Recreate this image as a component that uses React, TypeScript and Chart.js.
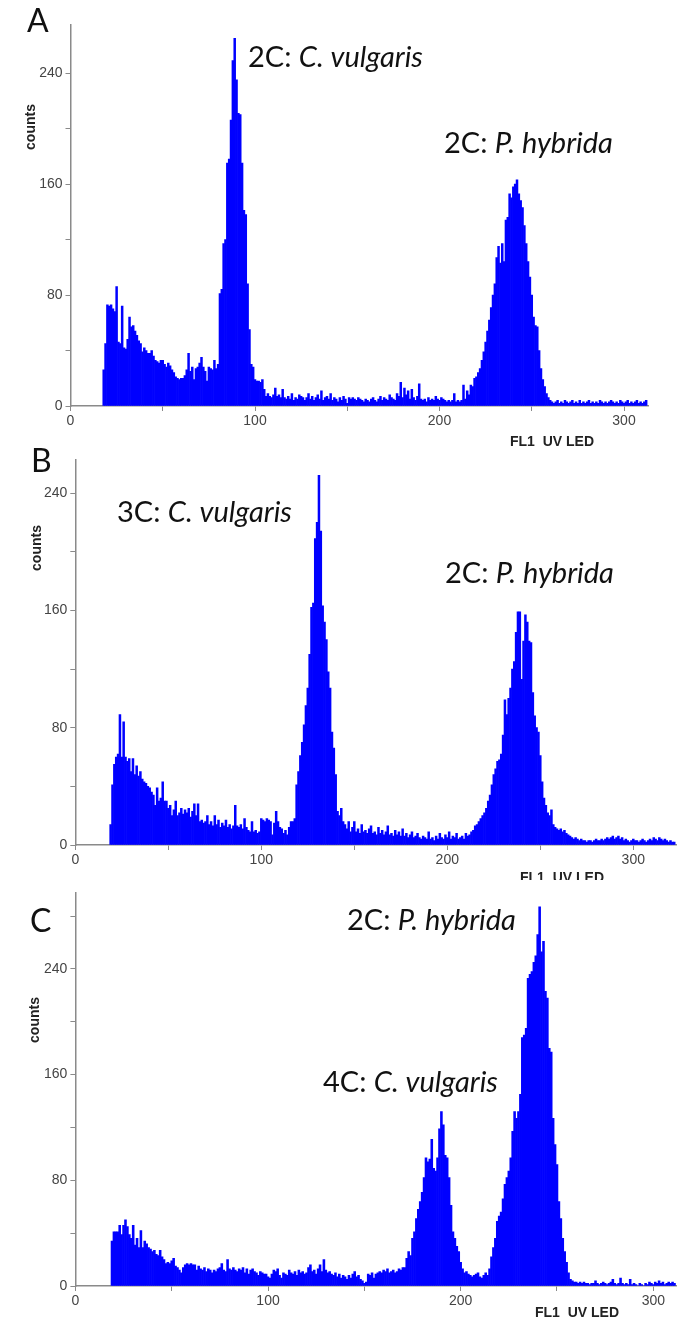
import React, { useEffect, useRef } from 'react';
import { Chart, registerables } from 'chart.js';

Chart.register(...registerables);

// ---------------- data ----------------
const xTickLabels = ['0', '100', '200', '300'];
const yTickLabels = ['0', '80', '160', '240'];
const xAxisTitle = 'FL1  UV LED';
const yAxisTitle = 'counts';
const panelLetters = ['A', 'B', 'C'];

// Panel A: histogram counts, one value per channel starting at firstChannelA
const firstChannelA = 18;
const countsA = [
  26, 45, 73, 72, 73, 70, 68, 86, 46, 45,
  72, 42, 41, 48, 64, 57, 58, 54, 51, 47,
  45, 39, 42, 40, 38, 38, 40, 36, 33, 32,
  31, 33, 33, 30, 28, 31, 29, 26, 24, 21,
  20, 19, 20, 20, 22, 26, 38, 25, 28, 19,
  27, 28, 31, 35, 28, 25, 18, 28, 27, 26,
  33, 27, 30, 81, 84, 117, 120, 175, 178, 206,
  249, 265, 235, 211, 210, 175, 141, 138, 88, 55,
  30, 28, 19, 18, 18, 17, 19, 12, 7, 9,
  7, 6, 8, 13, 7, 8, 6, 12, 6, 5,
  7, 5, 9, 4, 6, 5, 8, 7, 6, 4,
  6, 9, 5, 7, 4, 6, 8, 5, 11, 4,
  6, 7, 5, 9, 4, 6, 5, 3, 6, 4,
  7, 5, 2, 6, 5, 6, 5, 4, 6, 5,
  4, 3, 5, 4, 3, 5, 6, 4, 3, 5,
  7, 4, 6, 5, 4, 8, 6, 5, 4, 9,
  7, 17, 6, 13, 8, 11, 5, 12, 6, 4,
  7, 16, 5, 4, 5, 3, 6, 4, 5, 4,
  7, 5, 4, 6, 5, 4, 3, 4, 3, 4,
  9, 3, 4, 3, 4, 15, 5, 11, 8, 15,
  14, 20, 21, 24, 27, 33, 39, 46, 54, 62,
  71, 80, 88, 107, 115, 103, 117, 104, 134, 136,
  153, 150, 158, 160, 163, 153, 148, 143, 130, 117,
  104, 93, 80, 64, 58, 57, 40, 27, 19, 14,
  9, 6, 4, 3, 2, 3, 4, 2, 3, 2,
  4, 3, 2, 3, 4, 2, 3, 2, 4, 2,
  3, 2, 3, 4, 2, 3, 2, 3, 2, 4,
  3, 2, 3, 2, 3, 4, 3, 2, 3, 2,
  4, 3, 2, 3, 4, 2, 3, 2, 3, 4,
  2, 3, 2, 3, 4,
];
const peakDosesA = ['2C: ', '2C: '];
const peakSpeciesA = ['C. vulgaris', 'P. hybrida'];

// Panel B
const firstChannelB = 19;
const countsB = [
  14, 41, 55, 60, 62, 89, 60, 84, 60, 57,
  59, 50, 59, 48, 54, 47, 50, 45, 43, 42,
  40, 39, 36, 34, 27, 39, 30, 32, 43, 30,
  30, 25, 27, 20, 24, 30, 20, 22, 25, 21,
  24, 22, 25, 19, 23, 28, 20, 28, 16, 17,
  15, 16, 20, 14, 16, 13, 20, 14, 17, 12,
  15, 13, 17, 12, 14, 11, 13, 27, 13, 12,
  14, 11, 18, 12, 10, 9, 16, 9, 10, 8,
  9, 18, 17, 16, 18, 17, 16, 7, 15, 23,
  16, 12, 11, 8, 10, 7, 12, 16, 16, 18,
  41, 50, 61, 70, 82, 95, 107, 130, 162, 165,
  209, 220, 252, 214, 163, 152, 140, 118, 107, 77,
  66, 48, 23, 20, 25, 16, 14, 11, 16, 9,
  12, 16, 9, 11, 8, 14, 9, 10, 8, 11,
  13, 8, 9, 7, 12, 8, 10, 7, 9, 13,
  7, 8, 6, 10, 7, 9, 6, 11, 6, 8,
  5, 7, 9, 5, 6, 8, 5, 4, 6, 5,
  4, 9, 4, 5, 3, 6, 4, 8, 5, 4,
  7, 5, 9, 4, 6, 5, 8, 4, 5, 6,
  4, 8, 6, 7, 9, 10, 13, 14, 16, 18,
  20, 22, 25, 30, 34, 41, 48, 52, 57, 58,
  62, 75, 99, 89, 100, 107, 120, 125, 145, 159,
  159, 113, 139, 157, 152, 139, 138, 104, 88, 80,
  77, 61, 43, 32, 27, 22, 20, 24, 14, 12,
  11, 10, 11, 9, 10, 8, 7, 6, 5, 4,
  5, 4, 3, 4, 3, 3, 2, 3, 3, 2,
  3, 4, 3, 3, 4, 3, 4, 5, 4, 5,
  6, 4, 5, 6, 4, 5, 3, 4, 3, 2,
  3, 4, 3, 3, 2, 3, 4, 3, 2, 3,
  4, 3, 5, 4, 3, 5, 4, 3, 4, 3,
  2, 3, 2, 2,
];
const peakDosesB = ['3C: ', '2C: '];
const peakSpeciesB = ['C. vulgaris', 'P. hybrida'];

// Panel C
const firstChannelC = 19;
const countsC = [
  34, 41, 41, 41, 46, 39, 46, 50, 45, 39,
  36, 46, 31, 36, 29, 42, 29, 34, 32, 29,
  28, 26, 27, 24, 23, 27, 22, 20, 17, 18,
  17, 19, 21, 15, 14, 12, 10, 14, 16, 17,
  16, 17, 16, 16, 12, 15, 13, 12, 14, 11,
  13, 12, 10, 12, 11, 13, 14, 17, 12, 11,
  20, 13, 12, 14, 12, 11, 13, 12, 14, 10,
  13, 9, 12, 13, 11, 10, 8, 11, 10, 9,
  9, 7, 6, 9, 12, 11, 13, 8, 6, 10,
  9, 8, 12, 10, 9, 11, 8, 12, 10, 11,
  9, 10, 14, 16, 11, 12, 9, 13, 16, 11,
  20, 12, 10, 11, 9, 8, 10, 7, 9, 6,
  8, 7, 5, 8, 6, 9, 11, 7, 8, 5,
  4, 2, 3, 9, 8, 10, 6, 9, 10, 11,
  10, 12, 11, 13, 10, 11, 12, 10, 11, 13,
  12, 14, 14, 21, 26, 23, 36, 41, 51, 58,
  64, 71, 82, 97, 94, 96, 111, 89, 87, 97,
  119, 132, 122, 99, 97, 82, 61, 41, 36, 30,
  26, 18, 13, 10, 11, 9, 8, 7, 8, 9,
  10, 7, 6, 8, 10, 8, 13, 22, 29, 36,
  49, 53, 56, 66, 77, 82, 87, 97, 117, 132,
  127, 132, 145, 188, 190, 195, 233, 236, 238, 245,
  250, 266, 287, 253, 261, 223, 218, 180, 177, 127,
  107, 92, 64, 51, 36, 26, 18, 10, 5, 4,
  3, 3, 2, 3, 2, 3, 2, 2, 1, 2,
  2, 4, 2, 1, 2, 3, 2, 1, 2, 3,
  5, 2, 1, 2, 6, 2, 1, 2, 1, 5,
  1, 2, 1, 0, 2, 1, 0, 2, 1, 3,
  2, 1, 3, 2, 4, 2, 3, 1, 2, 3,
  2, 3, 2,
];
const peakDosesC = ['2C: ', '4C: '];
const peakSpeciesC = ['P. hybrida', 'C. vulgaris'];

// ---------------- layout / style ----------------
const W = 677;
const BAR_COLOR = '#0000ff';
const AXIS_COLOR = '#8a8a8a';
const TICK_COLOR = '#444444';
const TICK_FONT = { family: '"Liberation Sans", Arial, sans-serif', size: 14 };
const LABEL_FONT = 'Lato, "Open Sans", sans-serif';
const PEAK_FONT_SIZE = 29;

type PanelCfg = {
  letter: string;
  first: number;
  counts: number[];
  doses: string[];
  species: string[];
  top: number;
  h: number;
  left: number;
  right: number;
  plotTop: number;
  plotBottom: number;
  xMax: number;
  yMax: number;
  letterPos: [number, number];
  peakPos: [number, number][];
  countsPos: [number, number];
  titlePos: [number, number];
};

const PANELS: PanelCfg[] = [
  {
    letter: panelLetters[0], first: firstChannelA, counts: countsA, doses: peakDosesA, species: peakSpeciesA,
    top: 0, h: 452, left: 70.5, right: 648, plotTop: 25, plotBottom: 406, xMax: 313, yMax: 274.6,
    letterPos: [27, 32], peakPos: [[248, 67], [444, 153]], countsPos: [31, 127], titlePos: [510, 446],
  },
  {
    letter: panelLetters[1], first: firstChannelB, counts: countsB, doses: peakDosesB, species: peakSpeciesB,
    top: 440, h: 440, left: 75.3, right: 677, plotTop: 20, plotBottom: 405, xMax: 323.5, yMax: 262.5,
    letterPos: [31, 32], peakPos: [[117, 82], [445, 143]], countsPos: [37, 108], titlePos: [520, 442],
  },
  {
    letter: panelLetters[2], first: firstChannelC, counts: countsC, doses: peakDosesC, species: peakSpeciesC,
    top: 880, h: 439, left: 75.4, right: 677, plotTop: 13, plotBottom: 406, xMax: 312.3, yMax: 297.5,
    letterPos: [30, 52], peakPos: [[347, 50], [323, 212]], countsPos: [35, 140], titlePos: [535, 437],
  },
];

function makeTextPlugin(cfg: PanelCfg) {
  return {
    id: 'panelText' + cfg.letter,
    afterDraw(chart: any) {
      const ctx: CanvasRenderingContext2D = chart.ctx;
      ctx.save();
      ctx.fillStyle = '#111111';
      ctx.textAlign = 'left';
      ctx.textBaseline = 'alphabetic';
      ctx.font = `400 32px ${LABEL_FONT}`;
      ctx.fillText(cfg.letter, cfg.letterPos[0], cfg.letterPos[1]);
      cfg.doses.forEach((dose, i) => {
        const [x, y] = cfg.peakPos[i];
        ctx.font = `400 ${PEAK_FONT_SIZE}px ${LABEL_FONT}`;
        ctx.fillText(dose, x, y);
        const w = ctx.measureText(dose).width;
        ctx.font = `italic 400 ${PEAK_FONT_SIZE}px ${LABEL_FONT}`;
        ctx.fillText(cfg.species[i], x + w, y);
      });
      ctx.font = 'bold 14px "Liberation Sans", Arial, sans-serif';
      ctx.fillStyle = '#222222';
      ctx.fillText(xAxisTitle, cfg.titlePos[0], cfg.titlePos[1]);
      ctx.translate(cfg.countsPos[0], cfg.countsPos[1]);
      ctx.rotate(-Math.PI / 2);
      ctx.textAlign = 'center';
      ctx.textBaseline = 'middle';
      ctx.fillText(yAxisTitle, 0, 0);
      ctx.restore();
    },
  };
}

function Panel({ cfg }: { cfg: PanelCfg }) {
  const ref = useRef<HTMLCanvasElement | null>(null);
  useEffect(() => {
    const canvas = ref.current;
    if (!canvas) return;
    const points = cfg.counts.map((c, i) => ({ x: cfg.first + i, y: c }));
    const chart = new Chart(canvas, {
      type: 'bar',
      data: {
        datasets: [
          {
            data: points as any,
            backgroundColor: BAR_COLOR,
            borderWidth: 0,
            barPercentage: 1,
            categoryPercentage: 1,
          },
        ],
      },
      options: {
        responsive: false,
        animation: false,
        events: [],
        layout: { padding: { top: cfg.plotTop, right: W - cfg.right, left: 0, bottom: 0 } },
        plugins: { legend: { display: false }, tooltip: { enabled: false } },
        scales: {
          x: {
            type: 'linear',
            min: 0,
            max: cfg.xMax,
            offset: false,
            ticks: {
              stepSize: 50,
              includeBounds: false,
              autoSkip: false,
              maxRotation: 0,
              padding: 2,
              color: TICK_COLOR,
              font: TICK_FONT,
              callback: (v: any) => (xTickLabels.includes(String(v)) ? String(v) : ''),
            },
            grid: { offset: false, drawOnChartArea: false, drawTicks: true, tickLength: 5, color: AXIS_COLOR, lineWidth: 1 },
            border: { color: AXIS_COLOR, width: 1.5 },
            afterFit: (s: any) => {
              s.height = cfg.h - cfg.plotBottom;
            },
          },
          y: {
            type: 'linear',
            min: 0,
            max: cfg.yMax,
            ticks: {
              stepSize: 40,
              includeBounds: false,
              autoSkip: false,
              padding: 3,
              color: TICK_COLOR,
              font: TICK_FONT,
              callback: (v: any) => (yTickLabels.includes(String(v)) ? String(v) : ''),
            },
            grid: { drawOnChartArea: false, drawTicks: true, tickLength: 5, color: AXIS_COLOR, lineWidth: 1 },
            border: { color: AXIS_COLOR, width: 1.5 },
            afterFit: (s: any) => {
              s.width = cfg.left;
            },
          },
        },
      } as any,
      plugins: [makeTextPlugin(cfg)],
    });
    return () => chart.destroy();
  }, [cfg]);
  return (
    <canvas
      ref={ref}
      width={W}
      height={cfg.h}
      style={{ position: 'absolute', left: 0, top: cfg.top, width: W, height: cfg.h, display: 'block' }}
    />
  );
}

export default function App() {
  return (
    <div style={{ position: 'absolute', left: 0, top: 0, width: W, height: 1319, background: '#ffffff', overflow: 'hidden' }}>
      {PANELS.map((p) => (
        <Panel key={p.letter} cfg={p} />
      ))}
    </div>
  );
}
